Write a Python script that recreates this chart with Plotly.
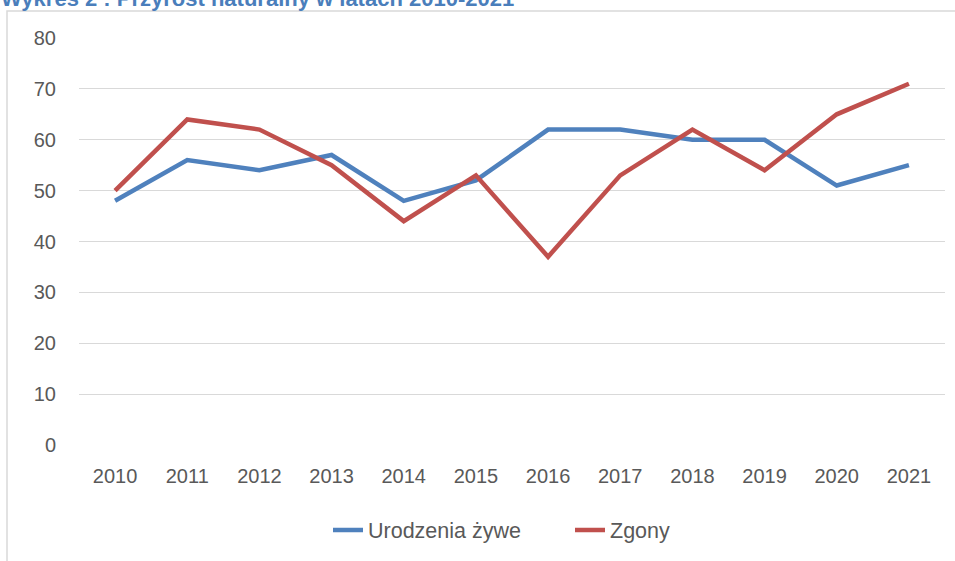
import plotly.graph_objects as go

years = ["2010", "2011", "2012", "2013", "2014", "2015", "2016", "2017", "2018", "2019", "2020", "2021"]
urodzenia = [48, 56, 54, 57, 48, 52, 62, 62, 60, 60, 51, 55]
zgony = [50, 64, 62, 55, 44, 53, 37, 53, 62, 54, 65, 71]
y_ticks = [0, 10, 20, 30, 40, 50, 60, 70, 80]

W, H = 955, 561
L, R, T, B = 79, 10, 38, 116
pw, ph = W - L - R, H - T - B

def px_x(p):
    return (p - L) / pw

def px_y(p):
    return (H - B - p) / ph

FONT = "Liberation Sans, Arial, sans-serif"

fig = go.Figure()
fig.add_trace(go.Scatter(x=years, y=urodzenia, mode="lines", name="Urodzenia żywe",
                         line=dict(color="#4F81BD", width=4.5)))
fig.add_trace(go.Scatter(x=years, y=zgony, mode="lines", name="Zgony",
                         line=dict(color="#C0504D", width=4.5)))

fig.update_layout(
    width=W, height=H,
    margin=dict(l=L, r=R, t=T, b=B),
    paper_bgcolor="white", plot_bgcolor="white",
    font=dict(family=FONT, size=20, color="#595959"),
    showlegend=True,
    legend=dict(orientation="h", x=px_x(328), y=px_y(530), xanchor="left", yanchor="middle",
                entrywidth=197, entrywidthmode="pixels",
                font=dict(size=21.5, color="#595959"), bgcolor="rgba(0,0,0,0)"),
    xaxis=dict(type="category", range=[-0.5, 11.5], showgrid=False, zeroline=False,
               showline=False, ticks="outside", ticklen=13, tickcolor="rgba(0,0,0,0)",
               tickfont=dict(size=20, color="#595959")),
    yaxis=dict(range=[0, 80], tickvals=y_ticks, showgrid=True, gridcolor="#D9D9D9", gridwidth=1.3,
               zeroline=False, showline=False, ticks="outside", ticklen=18,
               tickcolor="rgba(0,0,0,0)", tickfont=dict(size=20, color="#595959")),
    shapes=[dict(type="rect", xref="paper", yref="paper",
                 x0=px_x(7), x1=px_x(965), y0=px_y(575), y1=px_y(11),
                 line=dict(color="#D9D9D9", width=1.5), fillcolor="rgba(0,0,0,0)", layer="below")],
    annotations=[dict(text="<b>Wykres 2 : Przyrost naturalny w latach 2010-2021</b>",
                      xref="paper", yref="paper", x=px_x(-1), y=px_y(-1),
                      xanchor="left", yanchor="middle", showarrow=False,
                      font=dict(family=FONT, size=22, color="#4A7EBB"))],
)

fig.write_html("out.html", config={"displayModeBar": False},
               post_script="document.body.style.margin='0';document.body.style.overflow='hidden';")
